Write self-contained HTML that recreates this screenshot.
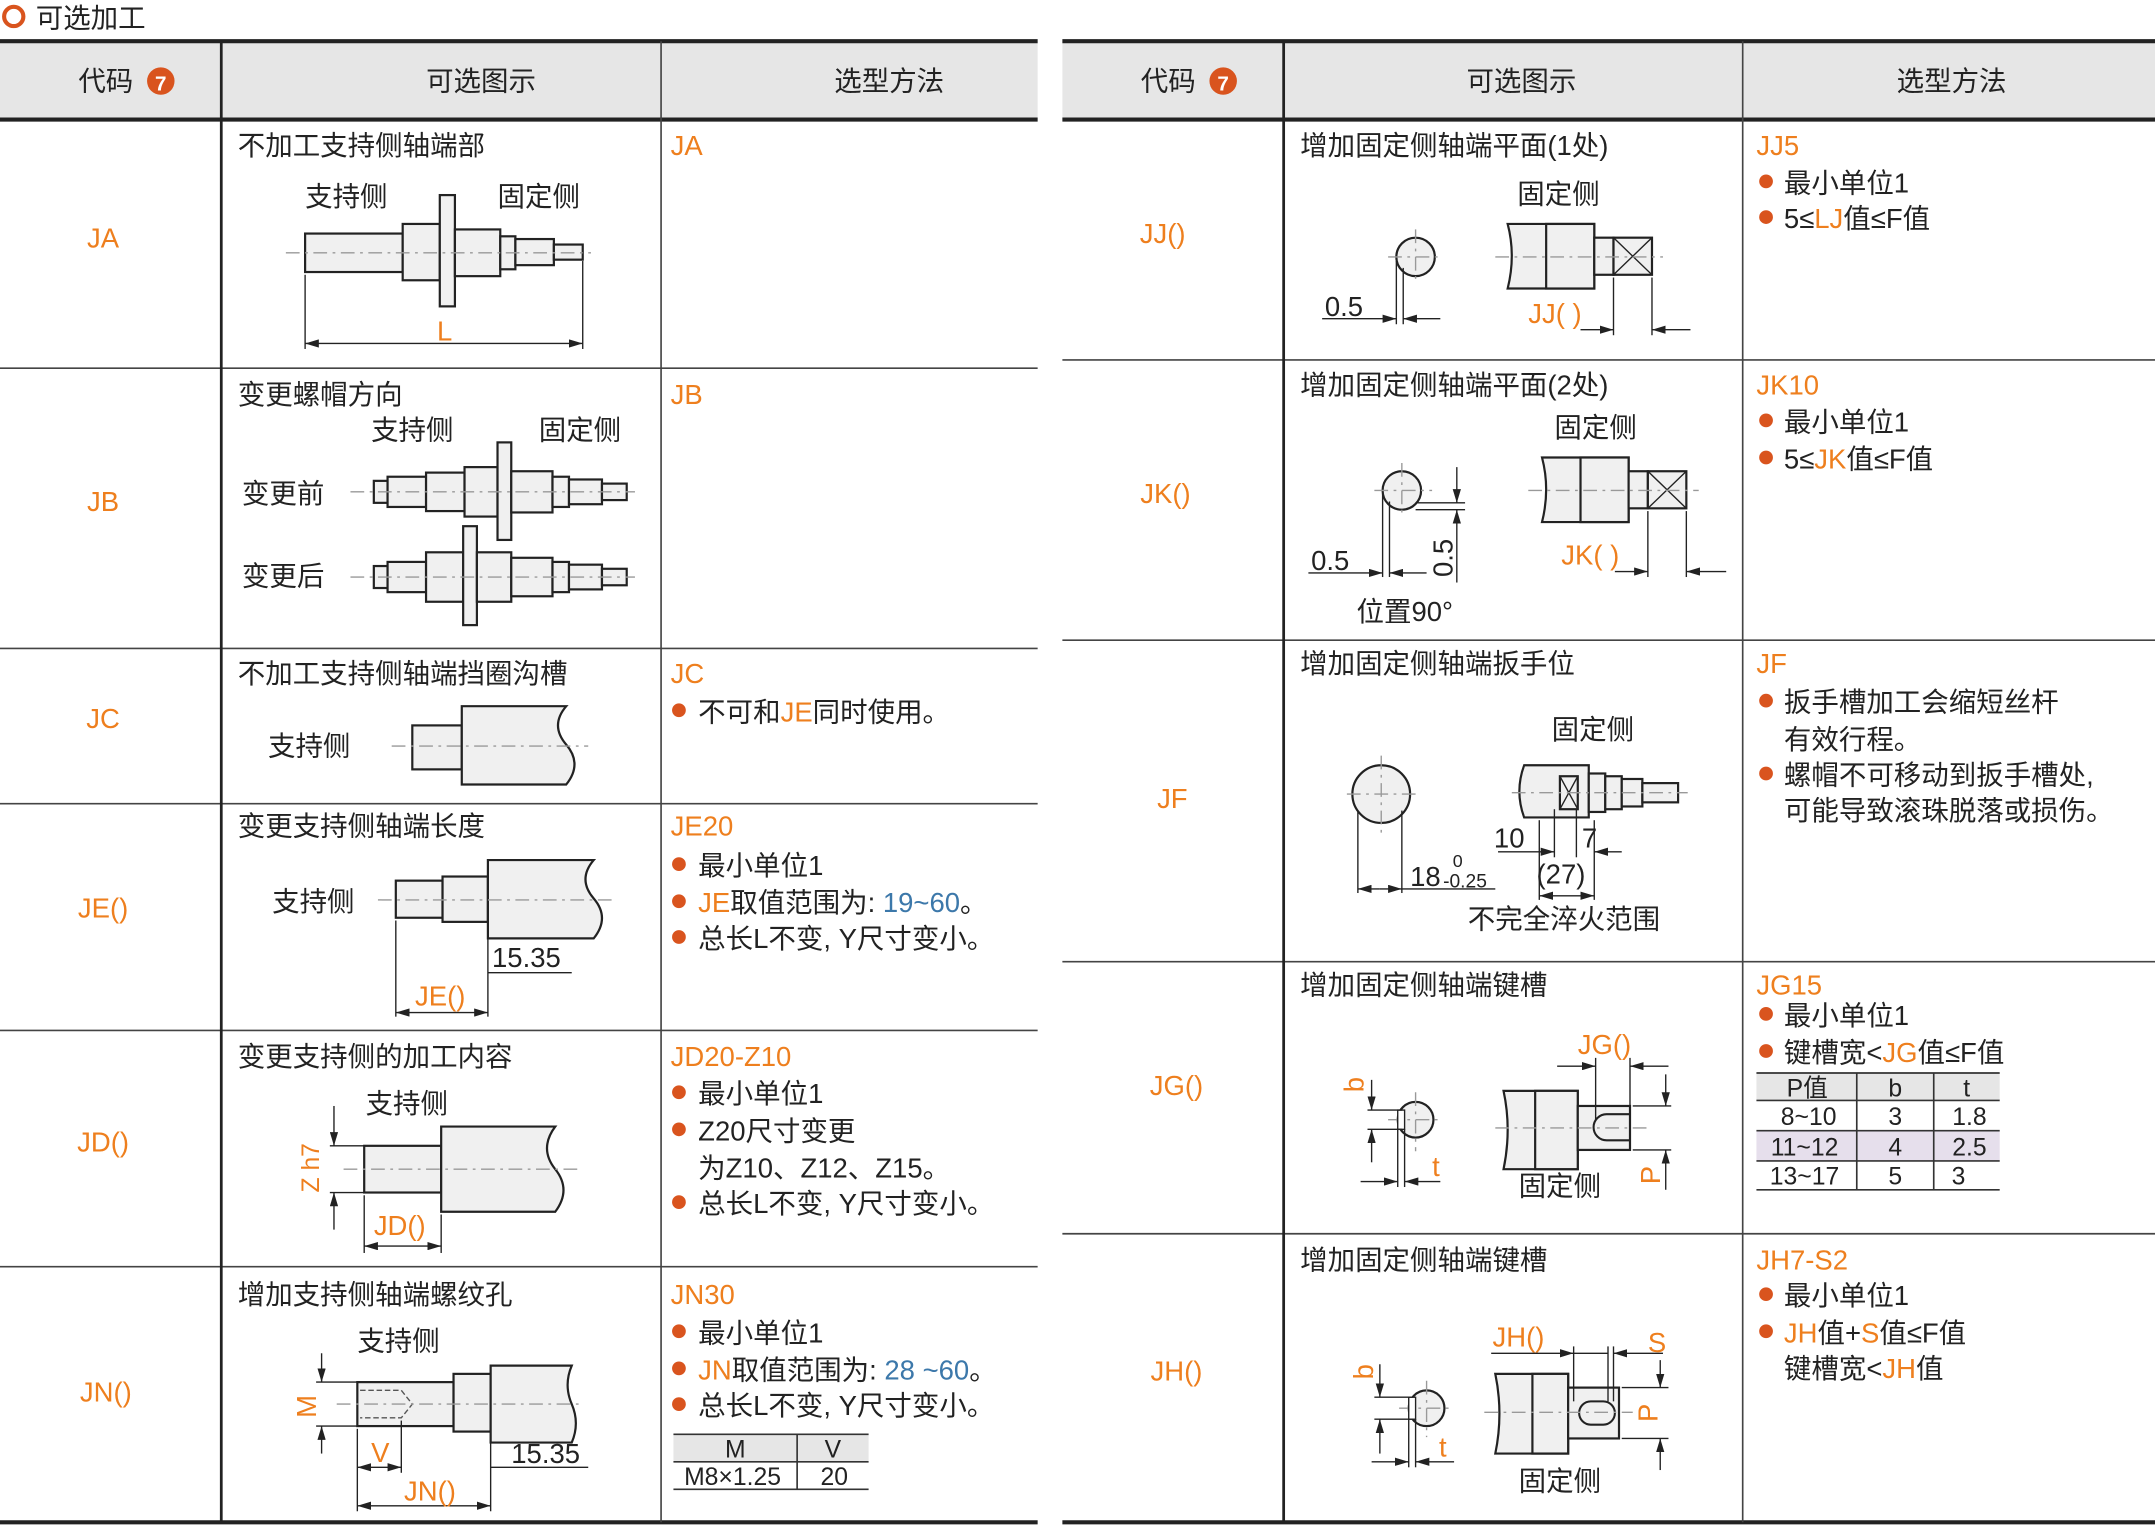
<!DOCTYPE html>
<html><head><meta charset="utf-8"><style>
html,body{margin:0;padding:0;background:#fff}
svg{display:block}
text{font-family:"Liberation Sans","Noto Sans CJK SC",sans-serif;font-size:20px;fill:#222}
.o{fill:#ee7f1e}.b{fill:#3c78aa}
.p{fill:#f0f0f0;stroke:#222;stroke-width:1.6}
.c{stroke:#999;stroke-width:1;stroke-dasharray:10 4 2 4;fill:none}
.d{stroke:#222;stroke-width:1;fill:none}
.s{font-size:18px}
</style></head><body>
<svg width="2155" height="1525" viewBox="0 0 1568 1110" preserveAspectRatio="none" xmlns="http://www.w3.org/2000/svg">
<defs>
<marker id="a" viewBox="0 0 10 6" refX="10" refY="3" markerWidth="10" markerHeight="6" orient="auto-start-reverse" markerUnits="userSpaceOnUse"><path d="M0,0L10,3L0,6z" fill="#222"/></marker>
</defs>
<!-- title -->
<circle cx="10" cy="12" r="7" fill="none" stroke="#d9541e" stroke-width="3"/>
<text x="26" y="20">可选加工</text>

<!-- LEFT TABLE -->
<rect x="0" y="30" width="755" height="57" fill="#e6e6e6"/>
<line x1="0" y1="30" x2="755" y2="30" stroke="#222" stroke-width="3"/>
<line x1="0" y1="87" x2="755" y2="87" stroke="#222" stroke-width="3"/>
<line x1="0" y1="1108" x2="755" y2="1108" stroke="#222" stroke-width="3"/>
<g stroke="#444" stroke-width="1.2">
<line x1="0" y1="268" x2="755" y2="268"/><line x1="0" y1="472" x2="755" y2="472"/><line x1="0" y1="585" x2="755" y2="585"/><line x1="0" y1="750" x2="755" y2="750"/><line x1="0" y1="922" x2="755" y2="922"/>
<line x1="481" y1="30" x2="481" y2="1108"/>
</g>
<line x1="161" y1="30" x2="161" y2="1108" stroke="#222" stroke-width="2"/>
<text x="57" y="66">代码</text><circle cx="117" cy="59" r="10" fill="#d9541e"/><text x="117" y="66" text-anchor="middle" style="fill:#fff;font-size:15px;font-weight:bold">7</text>
<text x="350" y="66" text-anchor="middle">可选图示</text>
<text x="647" y="66" text-anchor="middle">选型方法</text>

<g class="o" text-anchor="middle"><text x="75" y="180" class="o">JA</text><text x="75" y="372" class="o">JB</text><text x="75" y="530" class="o">JC</text><text x="75" y="668" class="o">JE()</text><text x="75" y="838" class="o">JD()</text><text x="77" y="1020" class="o">JN()</text></g>

<text x="173" y="113">不加工支持侧轴端部</text>
<text x="173" y="294">变更螺帽方向</text>
<text x="173" y="497">不加工支持侧轴端挡圈沟槽</text>
<text x="173" y="608">变更支持侧轴端长度</text>
<text x="173" y="776">变更支持侧的加工内容</text>
<text x="173" y="949">增加支持侧轴端螺纹孔</text>

<!-- JA drawing -->
<text x="222" y="150">支持侧</text><text x="362" y="150">固定侧</text>
<rect class="p" x="222" y="170" width="71" height="28"/><rect class="p" x="293" y="163" width="27" height="41"/>
<rect class="p" x="320" y="142" width="11" height="81"/><rect class="p" x="331" y="167" width="33" height="34"/>
<rect class="p" x="364" y="172" width="11" height="24"/><rect class="p" x="375" y="174" width="28" height="19"/><rect class="p" x="403" y="178" width="21" height="11"/>
<line class="c" x1="208" y1="184" x2="430" y2="184"/>
<line class="d" x1="222" y1="200" x2="222" y2="254"/><line class="d" x1="424" y1="190" x2="424" y2="254"/>
<line class="d" x1="222" y1="250" x2="424" y2="250" marker-start="url(#a)" marker-end="url(#a)"/>
<text x="318" y="248" class="o">L</text>

<!-- JB drawing -->
<text x="270" y="320">支持侧</text><text x="392" y="320">固定侧</text>
<text x="176" y="366">变更前</text><text x="176" y="426">变更后</text>
<g>
<rect class="p" x="272" y="350" width="10" height="16"/><rect class="p" x="282" y="347" width="28" height="22"/><rect class="p" x="310" y="344" width="28" height="28"/><rect class="p" x="338" y="340" width="24" height="36"/>
<rect class="p" x="362" y="322" width="10" height="71"/><rect class="p" x="372" y="343" width="30" height="30"/><rect class="p" x="402" y="347" width="12" height="22"/><rect class="p" x="414" y="349" width="24" height="18"/><rect class="p" x="438" y="352" width="18" height="12"/>
<line class="c" x1="255" y1="358" x2="462" y2="358"/>
</g>
<g>
<rect class="p" x="272" y="412" width="10" height="16"/><rect class="p" x="282" y="409" width="28" height="22"/><rect class="p" x="310" y="402" width="27" height="36"/>
<rect class="p" x="337" y="383" width="10" height="72"/><rect class="p" x="347" y="402" width="25" height="36"/><rect class="p" x="372" y="406" width="30" height="28"/><rect class="p" x="402" y="409" width="12" height="22"/><rect class="p" x="414" y="411" width="24" height="18"/><rect class="p" x="438" y="414" width="18" height="12"/>
<line class="c" x1="255" y1="420" x2="462" y2="420"/>
</g>

<!-- JC drawing -->
<text x="195" y="550">支持侧</text>
<rect class="p" x="300" y="528" width="36" height="32"/>
<path class="p" d="M336,514H412Q400,528 412,542Q424,556 412,571H336Z"/>
<line class="c" x1="285" y1="543" x2="428" y2="543"/>

<!-- JE drawing -->
<text x="198" y="663">支持侧</text>
<rect class="p" x="288" y="641" width="34" height="27"/><rect class="p" x="322" y="638" width="33" height="33"/>
<path class="p" d="M355,626H432Q420,640 432,654Q444,668 432,683H355Z"/>
<line class="c" x1="275" y1="655" x2="445" y2="655"/>
<line class="d" x1="355" y1="683" x2="355" y2="740"/><line class="d" x1="288" y1="670" x2="288" y2="740"/>
<line class="d" x1="355" y1="708" x2="416" y2="708"/>
<text x="358" y="704">15.35</text>
<line class="d" x1="288" y1="737" x2="355" y2="737" marker-start="url(#a)" marker-end="url(#a)"/>
<text x="302" y="732" class="o">JE()</text>

<!-- JD drawing -->
<text x="266" y="810">支持侧</text>
<rect class="p" x="265" y="834" width="56" height="34"/>
<path class="p" d="M321,820H404Q392,836 404,851Q416,866 404,882H321Z"/>
<line class="c" x1="250" y1="851" x2="420" y2="851"/>
<line class="d" x1="240" y1="834" x2="265" y2="834"/><line class="d" x1="240" y1="868" x2="265" y2="868"/>
<line class="d" x1="243" y1="805" x2="243" y2="834" marker-end="url(#a)"/><line class="d" x1="243" y1="895" x2="243" y2="868" marker-end="url(#a)"/>
<text x="0" y="0" transform="translate(232,868) rotate(-90)" class="o s">Z h7</text>
<line class="d" x1="265" y1="870" x2="265" y2="912"/><line class="d" x1="321" y1="884" x2="321" y2="912"/>
<line class="d" x1="265" y1="907" x2="321" y2="907" marker-start="url(#a)" marker-end="url(#a)"/>
<text x="272" y="899" class="o">JD()</text>

<!-- JN drawing -->
<text x="260" y="983">支持侧</text>
<rect class="p" x="260" y="1006" width="70" height="32"/>
<path d="M262,1012H292L300,1022L292,1032H262" fill="none" stroke="#555" stroke-dasharray="4 2"/>
<rect class="p" x="330" y="1000" width="27" height="42"/>
<path class="p" d="M357,994H416Q410,1008 416,1022Q422,1036 416,1050H357Z"/>
<line class="c" x1="245" y1="1022" x2="425" y2="1022"/>
<line class="d" x1="230" y1="1006" x2="262" y2="1006"/><line class="d" x1="230" y1="1038" x2="262" y2="1038"/>
<line class="d" x1="234" y1="985" x2="234" y2="1006" marker-end="url(#a)"/><line class="d" x1="234" y1="1058" x2="234" y2="1038" marker-end="url(#a)"/>
<text x="0" y="0" transform="translate(230,1032) rotate(-90)" class="o">M</text>
<line class="d" x1="260" y1="1040" x2="260" y2="1100"/><line class="d" x1="292" y1="1034" x2="292" y2="1072"/><line class="d" x1="357" y1="1044" x2="357" y2="1100"/>
<line class="d" x1="260" y1="1068" x2="292" y2="1068" marker-start="url(#a)" marker-end="url(#a)"/>
<text x="270" y="1064" class="o">V</text>
<line class="d" x1="357" y1="1068" x2="428" y2="1068"/><text x="372" y="1065">15.35</text>
<line class="d" x1="260" y1="1096" x2="357" y2="1096" marker-start="url(#a)" marker-end="url(#a)"/>
<text x="294" y="1092" class="o">JN()</text>

<!-- Left method column -->
<text x="488" y="113" class="o">JA</text>
<text x="488" y="294" class="o">JB</text>
<text x="488" y="497" class="o">JC</text>
<circle cx="494" cy="517" r="5" fill="#d9541e"/><text x="508" y="525">不可和<tspan class="o">JE</tspan>同时使用。</text>
<text x="488" y="608" class="o">JE20</text>
<circle cx="494" cy="629" r="5" fill="#d9541e"/><text x="508" y="637">最小单位1</text>
<circle cx="494" cy="656" r="5" fill="#d9541e"/><text x="508" y="664"><tspan class="o">JE</tspan>取值范围为: <tspan class="b">19~60</tspan>。</text>
<circle cx="494" cy="682" r="5" fill="#d9541e"/><text x="508" y="690">总长L不变, Y尺寸变小。</text>
<text x="488" y="776" class="o">JD20-Z10</text>
<circle cx="494" cy="795" r="5" fill="#d9541e"/><text x="508" y="803">最小单位1</text>
<circle cx="494" cy="822" r="5" fill="#d9541e"/><text x="508" y="830">Z20尺寸变更</text>
<text x="508" y="857">为Z10、Z12、Z15。</text>
<circle cx="494" cy="875" r="5" fill="#d9541e"/><text x="508" y="883">总长L不变, Y尺寸变小。</text>
<text x="488" y="949" class="o">JN30</text>
<circle cx="494" cy="969" r="5" fill="#d9541e"/><text x="508" y="977">最小单位1</text>
<circle cx="494" cy="996" r="5" fill="#d9541e"/><text x="508" y="1004"><tspan class="o">JN</tspan>取值范围为: <tspan class="b">28 ~60</tspan>。</text>
<circle cx="494" cy="1022" r="5" fill="#d9541e"/><text x="508" y="1030">总长L不变, Y尺寸变小。</text>
<rect x="490" y="1044" width="142" height="20" fill="#e6e6e6"/>
<g stroke="#333" stroke-width="1.2"><line x1="490" y1="1044" x2="632" y2="1044"/><line x1="490" y1="1064" x2="632" y2="1064"/><line x1="490" y1="1084" x2="632" y2="1084"/><line x1="580" y1="1044" x2="580" y2="1084"/></g>
<text x="535" y="1061" text-anchor="middle" class="s">M</text><text x="606" y="1061" text-anchor="middle" class="s">V</text>
<text x="533" y="1081" text-anchor="middle" class="s">M8×1.25</text><text x="607" y="1081" text-anchor="middle" class="s">20</text>

<!-- RIGHT TABLE -->
<rect x="773" y="30" width="795" height="57" fill="#e6e6e6"/>
<line x1="773" y1="30" x2="1568" y2="30" stroke="#222" stroke-width="3"/>
<line x1="773" y1="87" x2="1568" y2="87" stroke="#222" stroke-width="3"/>
<line x1="773" y1="1108" x2="1568" y2="1108" stroke="#222" stroke-width="3"/>
<g stroke="#444" stroke-width="1.2">
<line x1="773" y1="262" x2="1568" y2="262"/><line x1="773" y1="466" x2="1568" y2="466"/><line x1="773" y1="700" x2="1568" y2="700"/><line x1="773" y1="898" x2="1568" y2="898"/>
<line x1="1268" y1="30" x2="1268" y2="1108"/>
</g>
<line x1="934" y1="30" x2="934" y2="1108" stroke="#222" stroke-width="2"/>
<text x="830" y="66">代码</text><circle cx="890" cy="59" r="10" fill="#d9541e"/><text x="890" y="66" text-anchor="middle" style="fill:#fff;font-size:15px;font-weight:bold">7</text>
<text x="1107" y="66" text-anchor="middle">可选图示</text>
<text x="1420" y="66" text-anchor="middle">选型方法</text>

<g text-anchor="middle"><text x="846" y="177" class="o">JJ()</text><text x="848" y="366" class="o">JK()</text><text x="853" y="588" class="o">JF</text><text x="856" y="797" class="o">JG()</text><text x="856" y="1005" class="o">JH()</text></g>

<text x="946" y="113">增加固定侧轴端平面(1处)</text>
<text x="946" y="287">增加固定侧轴端平面(2处)</text>
<text x="946" y="490">增加固定侧轴端扳手位</text>
<text x="946" y="724">增加固定侧轴端键槽</text>
<text x="946" y="924">增加固定侧轴端键槽</text>

<!-- JJ drawing -->
<text x="1104" y="148">固定侧</text>
<circle class="p" cx="1030" cy="187" r="14"/>
<line class="c" x1="1010" y1="187" x2="1050" y2="187"/><line class="c" x1="1030" y1="167" x2="1030" y2="207"/>
<line class="d" x1="1016" y1="190" x2="1016" y2="236"/><line class="d" x1="1021" y1="195" x2="1021" y2="236"/>
<line class="d" x1="962" y1="232" x2="1016" y2="232" marker-end="url(#a)"/><line class="d" x1="1048" y1="232" x2="1021" y2="232" marker-end="url(#a)"/>
<text x="964" y="230">0.5</text>
<path class="p" d="M1097,163H1160V210H1097Q1103,186 1097,163Z"/>
<rect class="p" x="1125" y="163" width="35" height="47"/>
<rect class="p" x="1160" y="173" width="14" height="27"/>
<rect class="p" x="1174" y="173" width="28" height="27"/>
<path d="M1174,173L1202,200M1202,173L1174,200" stroke="#222"/>
<line class="c" x1="1088" y1="187" x2="1210" y2="187"/>
<line class="d" x1="1174" y1="202" x2="1174" y2="244"/><line class="d" x1="1202" y1="202" x2="1202" y2="244"/>
<line class="d" x1="1150" y1="240" x2="1174" y2="240" marker-end="url(#a)"/><line class="d" x1="1230" y1="240" x2="1202" y2="240" marker-end="url(#a)"/>
<text x="1112" y="235" class="o">JJ( )</text>

<!-- JK drawing -->
<text x="1131" y="318">固定侧</text>
<circle class="p" cx="1020" cy="357" r="14"/>
<line class="c" x1="1000" y1="357" x2="1042" y2="357"/><line class="c" x1="1020" y1="337" x2="1020" y2="377"/>
<line class="d" x1="1006" y1="360" x2="1006" y2="420"/><line class="d" x1="1011" y1="365" x2="1011" y2="420"/>
<line class="d" x1="952" y1="417" x2="1006" y2="417" marker-end="url(#a)"/><line class="d" x1="1038" y1="417" x2="1011" y2="417" marker-end="url(#a)"/>
<text x="954" y="415">0.5</text>
<line class="d" x1="1030" y1="366" x2="1066" y2="366"/><line class="d" x1="1030" y1="371" x2="1066" y2="371"/>
<line class="d" x1="1060" y1="340" x2="1060" y2="366" marker-end="url(#a)"/><line class="d" x1="1060" y1="424" x2="1060" y2="371" marker-end="url(#a)"/>
<text x="0" y="0" transform="translate(1057,420) rotate(-90)">0.5</text>
<text x="987" y="452">位置90°</text>
<path class="p" d="M1122,333H1185V380H1122Q1128,356 1122,333Z"/>
<rect class="p" x="1150" y="333" width="35" height="47"/>
<rect class="p" x="1185" y="343" width="14" height="27"/>
<rect class="p" x="1199" y="343" width="28" height="27"/>
<path d="M1199,343L1227,370M1227,343L1199,370" stroke="#222"/>
<line class="c" x1="1112" y1="357" x2="1236" y2="357"/>
<line class="d" x1="1199" y1="372" x2="1199" y2="420"/><line class="d" x1="1227" y1="372" x2="1227" y2="420"/>
<line class="d" x1="1175" y1="416" x2="1199" y2="416" marker-end="url(#a)"/><line class="d" x1="1256" y1="416" x2="1227" y2="416" marker-end="url(#a)"/>
<text x="1136" y="411" class="o">JK( )</text>

<!-- JF drawing -->
<text x="1129" y="538">固定侧</text>
<ellipse class="p" cx="1005" cy="578" rx="21" ry="21"/>
<line class="c" x1="980" y1="578" x2="1030" y2="578"/><line class="c" x1="1005" y1="550" x2="1005" y2="608"/>
<line class="d" x1="988" y1="590" x2="988" y2="650"/><line class="d" x1="1020" y1="590" x2="1020" y2="650"/>
<line class="d" x1="1004" y1="647" x2="988" y2="647" marker-end="url(#a)"/><line class="d" x1="1004" y1="647" x2="1020" y2="647" marker-end="url(#a)"/>
<line class="d" x1="1020" y1="647" x2="1088" y2="647"/>
<text x="1026" y="645">18</text><text x="1057" y="631" class="s" style="font-size:13px">0</text><text x="1050" y="646" style="font-size:14px">-0.25</text>
<path class="p" d="M1109,557H1156V595H1109Q1102,576 1109,557Z"/>
<rect class="p" x="1135" y="565" width="13" height="24"/>
<path d="M1135,565L1148,589M1148,565L1135,589" stroke="#222"/>
<rect class="p" x="1156" y="563" width="12" height="28"/><rect class="p" x="1168" y="565" width="12" height="24"/><rect class="p" x="1180" y="567" width="15" height="20"/><rect class="p" x="1195" y="570" width="26" height="14"/>
<line class="c" x1="1100" y1="577" x2="1228" y2="577"/>
<line class="d" x1="1120" y1="597" x2="1120" y2="655"/><line class="d" x1="1131" y1="589" x2="1131" y2="624"/><line class="d" x1="1147" y1="589" x2="1147" y2="624"/><line class="d" x1="1160" y1="597" x2="1160" y2="655"/>
<line class="d" x1="1090" y1="620" x2="1131" y2="620" marker-end="url(#a)"/><line class="d" x1="1180" y1="620" x2="1160" y2="620" marker-end="url(#a)"/>
<text x="1087" y="617">10</text><text x="1151" y="617">7</text>
<line class="d" x1="1120" y1="652" x2="1160" y2="652" marker-start="url(#a)" marker-end="url(#a)"/>
<text x="1118" y="643">(27)</text>
<text x="1068" y="676">不完全淬火范围</text>

<!-- JG drawing -->
<text x="0" y="0" transform="translate(992,795) rotate(-90)" class="o">b</text>
<circle class="p" cx="1030" cy="815" r="13"/>
<line class="c" x1="1010" y1="815" x2="1048" y2="815"/><line class="c" x1="1030" y1="795" x2="1030" y2="838"/>
<rect x="1017" y="808" width="5" height="14" fill="#fff" stroke="#222"/>
<line class="d" x1="995" y1="808" x2="1020" y2="808"/><line class="d" x1="995" y1="822" x2="1020" y2="822"/>
<line class="d" x1="998" y1="786" x2="998" y2="808" marker-end="url(#a)"/><line class="d" x1="998" y1="846" x2="998" y2="822" marker-end="url(#a)"/>
<line class="d" x1="1017" y1="822" x2="1017" y2="864"/><line class="d" x1="1022" y1="822" x2="1022" y2="864"/>
<line class="d" x1="990" y1="860" x2="1017" y2="860" marker-end="url(#a)"/><line class="d" x1="1048" y1="860" x2="1022" y2="860" marker-end="url(#a)"/>
<text x="1042" y="856" class="o">t</text>
<path class="p" d="M1094,794H1148V851H1094Q1100,822 1094,794Z"/>
<rect class="p" x="1117" y="794" width="31" height="57"/>
<rect class="p" x="1148" y="805" width="38" height="32"/>
<path d="M1186,811H1169A5,5 0 0 0 1169,830H1186" fill="none" stroke="#222" stroke-width="1.5"/>
<line class="c" x1="1088" y1="821" x2="1198" y2="821"/>
<line class="d" x1="1161" y1="770" x2="1161" y2="815"/><line class="d" x1="1186" y1="770" x2="1186" y2="805"/>
<line class="d" x1="1133" y1="776" x2="1161" y2="776" marker-end="url(#a)"/><line class="d" x1="1214" y1="776" x2="1186" y2="776" marker-end="url(#a)"/>
<text x="1148" y="767" class="o">JG()</text>
<line class="d" x1="1188" y1="805" x2="1216" y2="805"/><line class="d" x1="1188" y1="837" x2="1216" y2="837"/>
<line class="d" x1="1212" y1="782" x2="1212" y2="805" marker-end="url(#a)"/><line class="d" x1="1212" y1="866" x2="1212" y2="837" marker-end="url(#a)"/>
<text x="0" y="0" transform="translate(1208,862) rotate(-90)" class="o">P</text>
<text x="1105" y="870">固定侧</text>

<!-- JH drawing -->
<text x="0" y="0" transform="translate(999,1004) rotate(-90)" class="o">b</text>
<circle class="p" cx="1038" cy="1025" r="13"/>
<line class="c" x1="1018" y1="1025" x2="1055" y2="1025"/><line class="c" x1="1038" y1="1005" x2="1038" y2="1046"/>
<rect x="1025" y="1017" width="5" height="16" fill="#fff" stroke="#222"/>
<line class="d" x1="1000" y1="1017" x2="1028" y2="1017"/><line class="d" x1="1000" y1="1033" x2="1028" y2="1033"/>
<line class="d" x1="1004" y1="993" x2="1004" y2="1017" marker-end="url(#a)"/><line class="d" x1="1004" y1="1058" x2="1004" y2="1033" marker-end="url(#a)"/>
<line class="d" x1="1025" y1="1033" x2="1025" y2="1068"/><line class="d" x1="1030" y1="1033" x2="1030" y2="1068"/>
<line class="d" x1="998" y1="1064" x2="1025" y2="1064" marker-end="url(#a)"/><line class="d" x1="1058" y1="1064" x2="1030" y2="1064" marker-end="url(#a)"/>
<text x="1047" y="1060" class="o">t</text>
<path class="p" d="M1088,1000H1141V1058H1088Q1094,1029 1088,1000Z"/>
<rect class="p" x="1115" y="1000" width="26" height="58"/>
<rect class="p" x="1141" y="1010" width="37" height="37"/>
<rect x="1149" y="1020" width="26" height="17" rx="8.5" fill="#f0f0f0" stroke="#222" stroke-width="1.5"/>
<line class="c" x1="1080" y1="1028" x2="1188" y2="1028"/>
<line class="d" x1="1145" y1="980" x2="1145" y2="1020"/><line class="d" x1="1170" y1="980" x2="1170" y2="1020"/><line class="d" x1="1174" y1="980" x2="1174" y2="1020"/>
<line class="d" x1="1085" y1="985" x2="1145" y2="985" marker-end="url(#a)"/><line class="d" x1="1145" y1="985" x2="1170" y2="985"/><line class="d" x1="1210" y1="985" x2="1174" y2="985" marker-end="url(#a)"/>
<text x="1086" y="980" class="o">JH()</text><text x="1199" y="984" class="o">S</text>
<line class="d" x1="1180" y1="1010" x2="1214" y2="1010"/><line class="d" x1="1180" y1="1047" x2="1214" y2="1047"/>
<line class="d" x1="1208" y1="990" x2="1208" y2="1010" marker-end="url(#a)"/><line class="d" x1="1208" y1="1070" x2="1208" y2="1047" marker-end="url(#a)"/>
<text x="0" y="0" transform="translate(1206,1035) rotate(-90)" class="o">P</text>
<text x="1105" y="1085">固定侧</text>

<!-- Right method column -->
<text x="1278" y="113" class="o">JJ5</text>
<circle cx="1285" cy="132" r="5" fill="#d9541e"/><text x="1298" y="140">最小单位1</text>
<circle cx="1285" cy="158" r="5" fill="#d9541e"/><text x="1298" y="166">5≤<tspan class="o">LJ</tspan>值≤F值</text>
<text x="1278" y="287" class="o">JK10</text>
<circle cx="1285" cy="306" r="5" fill="#d9541e"/><text x="1298" y="314">最小单位1</text>
<circle cx="1285" cy="333" r="5" fill="#d9541e"/><text x="1298" y="341">5≤<tspan class="o">JK</tspan>值≤F值</text>
<text x="1278" y="490" class="o">JF</text>
<circle cx="1285" cy="510" r="5" fill="#d9541e"/><text x="1298" y="518">扳手槽加工会缩短丝杆</text>
<text x="1298" y="545">有效行程。</text>
<circle cx="1285" cy="563" r="5" fill="#d9541e"/><text x="1298" y="571">螺帽不可移动到扳手槽处,</text>
<text x="1298" y="597">可能导致滚珠脱落或损伤。</text>
<text x="1278" y="724" class="o">JG15</text>
<circle cx="1285" cy="738" r="5" fill="#d9541e"/><text x="1298" y="746">最小单位1</text>
<circle cx="1285" cy="765" r="5" fill="#d9541e"/><text x="1298" y="773">键槽宽&lt;<tspan class="o">JG</tspan>值≤F值</text>
<rect x="1278" y="781" width="177" height="20" fill="#e6e6e6"/>
<rect x="1278" y="823" width="177" height="22" fill="#e6dfec"/>
<g stroke="#333" stroke-width="1.2"><line x1="1278" y1="781" x2="1455" y2="781"/><line x1="1278" y1="801" x2="1455" y2="801"/><line x1="1278" y1="823" x2="1455" y2="823"/><line x1="1278" y1="845" x2="1455" y2="845"/><line x1="1278" y1="866" x2="1455" y2="866"/><line x1="1351" y1="781" x2="1351" y2="866"/><line x1="1407" y1="781" x2="1407" y2="866"/></g>
<g class="s" text-anchor="middle">
<text x="1315" y="798" class="s">P值</text><text x="1379" y="798" class="s">b</text><text x="1431" y="798" class="s">t</text>
<text x="1316" y="819" class="s">8~10</text><text x="1379" y="819" class="s">3</text><text x="1433" y="819" class="s">1.8</text>
<text x="1313" y="841" class="s">11~12</text><text x="1379" y="841" class="s">4</text><text x="1433" y="841" class="s">2.5</text>
<text x="1313" y="862" class="s">13~17</text><text x="1379" y="862" class="s">5</text><text x="1425" y="862" class="s">3</text>
</g>
<text x="1278" y="924" class="o">JH7-S2</text>
<circle cx="1285" cy="942" r="5" fill="#d9541e"/><text x="1298" y="950">最小单位1</text>
<circle cx="1285" cy="969" r="5" fill="#d9541e"/><text x="1298" y="977"><tspan class="o">JH</tspan>值+<tspan class="o">S</tspan>值≤F值</text>
<text x="1298" y="1003">键槽宽&lt;<tspan class="o">JH</tspan>值</text>
</svg>
</body></html>
